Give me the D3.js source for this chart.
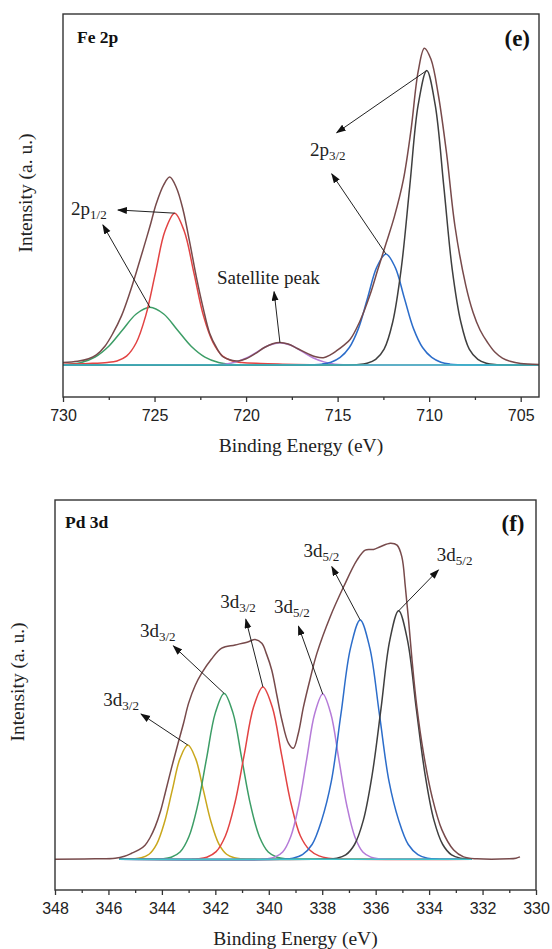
<!DOCTYPE html>
<html>
<head>
<meta charset="utf-8">
<script src="https://cdn.jsdelivr.net/npm/d3@7"></script>
<style>
  html, body { margin: 0; padding: 0; background: #fff; }
  svg { display: block; }
</style>
</head>
<body>
<svg id="fig" width="552" height="949"></svg>
<script>
// ---------- Fe 2p spectrum: [binding energy (eV), intensity (a.u.)] ----------
const feEnvelope = [[730,0.8],[729.2,1.2],[728.6,2.0],[728.18,3.2],[727.7,6.0],[727.27,10.0],[726.8,15.5],[726.36,22.5],[726.0,29.0],[725.63,36.1],[725.25,43.5],[724.9,50.7],[724.5,56.5],[724.17,58.9],[723.8,55.5],[723.44,48.6],[723.08,38.5],[722.72,27.7],[722.35,18.0],[721.99,10.0],[721.6,5.3],[721.26,2.6],[720.85,1.6],[720.42,1.3],[720.0,2.0],[719.5,3.6],[719.0,5.5],[718.55,6.7],[718.15,7.1],[717.7,6.6],[717.2,5.2],[716.6,3.5],[716.2,2.6],[715.78,2.3],[715.4,3.2],[715.05,4.5],[714.7,6.0],[714.32,8.0],[713.8,13.5],[713.23,22.0],[712.8,30.0],[712.36,38.0],[711.9,46.5],[711.41,58.0],[710.99,73.7],[710.6,92.0],[710.26,99.3],[709.9,95.8],[709.5,84.7],[709.05,66.4],[708.59,43.5],[708.0,25.0],[707.6,16.5],[707.22,11.0],[706.8,7.0],[706.4,4.0],[706.0,2.2],[705.58,1.2],[705.0,0.5],[704.0,0.2]];
const fe2p12Low = [[730,0.1],[729.75,0.2],[729.0,0.8],[728.25,2.5],[727.5,5.9],[726.75,11.0],[726.0,16.0],[725.25,18.1],[724.5,16.0],[723.75,11.0],[723.0,5.9],[722.25,2.5],[721.5,0.8],[720.75,0.2],[720.0,0.05],[719.0,0],[704,0]];
const fe2p12High = [[730,0.3],[728.6,0.5],[727.58,0.8],[727.05,1.3],[726.53,2.8],[726.0,7.0],[725.48,15.5],[724.95,28.9],[724.43,42.0],[723.9,47.6],[723.38,42.0],[722.85,28.9],[722.33,15.5],[721.8,7.0],[721.28,2.8],[720.75,1.3],[720.23,0.8],[719.2,0.5],[718.0,0.3],[716.5,0.1],[715.5,0],[704,0]];
const feSatellite = [[730,0],[722.4,0],[721.75,0.1],[721.15,0.3],[720.55,1.0],[719.95,2.3],[719.35,4.3],[718.75,6.2],[718.15,7.0],[717.55,6.2],[716.95,4.3],[716.35,2.3],[715.75,1.0],[715.15,0.3],[714.55,0.1],[713.9,0],[704,0]];
const fe2p32High = [[730,0],[717.2,0],[716.36,0.1],[715.86,0.3],[715.36,0.9],[714.86,2.4],[714.36,5.5],[713.86,11.5],[713.36,21.1],[712.86,30.7],[712.36,34.8],[711.86,30.7],[711.36,21.1],[710.86,11.5],[710.36,5.5],[709.86,2.4],[709.36,0.9],[708.86,0.3],[708.36,0.1],[707.5,0],[704,0]];
const fe2p32Low = [[730,0],[714.7,0],[713.85,0.15],[713.39,0.6],[712.92,1.8],[712.46,5.0],[711.99,13.5],[711.53,30.0],[711.06,56.0],[710.6,81.5],[710.13,92.3],[709.67,81.5],[709.2,56.0],[708.74,30.0],[708.27,13.5],[707.81,5.0],[707.34,1.8],[706.88,0.6],[706.41,0.15],[705.6,0],[704,0]];
const feBackground = [[730,0],[704,0]];

const feTicks = [730, 725, 720, 715, 710, 705];
const feMinorTicks = [727.5, 722.5, 717.5, 712.5, 707.5];

// ---------- Pd 3d spectrum ----------
const pdEnvelope = [[348,0],[346.5,0.1],[345.75,0.3],[345.4,0.9],[345.13,1.8],[344.85,2.9],[344.63,4.3],[344.45,6.5],[344.25,10.0],[344.05,14.8],[343.88,20.2],[343.63,28.4],[343.4,35.5],[343.19,41.8],[343.0,48.0],[342.75,53.5],[342.51,57.2],[342.15,61.5],[341.76,64.9],[341.26,65.9],[340.76,66.9],[340.51,67.6],[340.26,66.4],[340.08,63.0],[339.89,58.2],[339.7,50.5],[339.51,42.8],[339.26,35.6],[339.08,34.1],[338.9,38.5],[338.7,46.9],[338.45,55.5],[338.2,63.3],[337.7,74.6],[337.2,83.8],[336.7,92.0],[336.39,95.1],[336.08,95.3],[335.83,96.1],[335.45,97.2],[335.2,96.6],[335.02,93.0],[334.89,83.8],[334.77,73.6],[334.64,61.3],[334.46,46.9],[334.21,32.6],[333.89,19.2],[333.52,9.0],[333.08,2.8],[332.71,0.7],[332.21,0.1],[331.0,0.1],[330.75,0.3],[330.6,0.7]];
const pd3d32A = [[345.6,0],[345.06,0.1],[344.77,0.4],[344.48,1.5],[344.19,4.7],[343.9,11.4],[343.61,21.3],[343.32,31.0],[343.03,35.1],[342.74,31.0],[342.45,21.3],[342.16,11.4],[341.87,4.7],[341.58,1.5],[341.29,0.4],[341.0,0.1],[340.4,0],[332.4,0]];
const pd3d32B = [[345.6,0],[344.3,0],[343.98,0.1],[343.65,0.6],[343.32,2.2],[342.99,6.9],[342.66,16.6],[342.33,30.9],[342.0,45.0],[341.67,51.0],[341.34,45.0],[341.01,30.9],[340.68,16.6],[340.35,6.9],[340.02,2.2],[339.69,0.6],[339.36,0.1],[339.0,0],[332.4,0]];
const pd3d32C = [[345.6,0],[342.9,0],[342.67,0.1],[342.32,0.6],[341.97,2.3],[341.62,7.2],[341.27,17.2],[340.92,32.1],[340.57,46.8],[340.22,53.0],[339.87,46.8],[339.52,32.1],[339.17,17.2],[338.82,7.2],[338.47,2.8],[338.12,1.0],[337.77,0.3],[337.2,0],[332.4,0]];
const pd3d52A = [[345.6,0],[340.3,0],[340.08,0.1],[339.78,0.6],[339.48,2.2],[339.18,6.9],[338.88,16.5],[338.58,30.8],[338.28,44.8],[337.98,50.8],[337.68,44.8],[337.38,30.8],[337.08,16.5],[336.78,6.9],[336.48,2.2],[336.18,0.6],[335.88,0.1],[335.5,0],[332.4,0]];
const pd3d52B = [[345.6,0],[339.4,0],[339.1,0.3],[338.74,1.4],[338.38,4.5],[338.02,12.0],[337.66,23.9],[337.3,44.6],[336.94,65.0],[336.58,73.6],[336.22,65.0],[335.86,44.6],[335.5,23.9],[335.14,12.0],[334.78,4.5],[334.42,1.4],[334.06,0.3],[333.6,0],[332.4,0]];
const pd3d52C = [[345.6,0],[338.0,0],[337.45,0.3],[337.12,1.3],[336.79,4.5],[336.46,12.0],[336.13,26.0],[335.8,46.3],[335.47,67.4],[335.14,76.4],[334.81,67.4],[334.48,46.3],[334.15,26.0],[333.82,12.0],[333.49,4.5],[333.16,1.3],[332.83,0.3],[332.4,0]];
const pdBackground = [[345.6,0],[332.4,0]];

const pdTicks = [348, 346, 344, 342, 340, 338, 336, 334, 332, 330];
const pdMinorTicks = [347, 345, 343, 341, 339, 337, 335, 333, 331];

// ---------- styling & layout ----------
const SERIF = "'Liberation Serif', 'Times New Roman', serif";
const SANS = "'Liberation Sans', Arial, sans-serif";
const C = {
  envelope: '#774a4b', gray: '#3f3f3f', red: '#e24343', green: '#3c9d66',
  blue: '#2c6dca', purple: '#b57bd8', yellow: '#c9a71c', cyan: '#41c3cb'
};

const panels = [
  {
    box: { left: 63, right: 539, top: 14, bottom: 397 },
    xDomain: [730, 704], yDomain: [-10, 110],
    ticks: feTicks, minor: feMinorTicks,
    series: [
      { data: fe2p12Low, color: C.green },
      { data: fe2p12High, color: C.red },
      { data: feSatellite, color: C.purple },
      { data: fe2p32High, color: C.blue },
      { data: fe2p32Low, color: C.gray },
      { data: feBackground, color: C.cyan },
      { data: feEnvelope, color: C.envelope }
    ],
    arrows: [
      { peakOf: fe2p32Low, tip: [715.05, 72.8] },
      { peakOf: fe2p32High, tip: [715.32, 59.9] },
      { peakOf: fe2p12High, tip: [727.0, 48.6] },
      { peakOf: fe2p12Low, tip: [727.82, 43.9] },
      { peakOf: feSatellite, tip: [718.47, 23.0] }
    ],
    notes: [
      { text: '2p', sub: '3/2', at: [716.51, 65.5] },
      { text: '2p', sub: '1/2', at: [729.56, 47.0] },
      { text: 'Satellite peak', at: [721.59, 25.4] }
    ],
    name: { text: 'Fe 2p', x: 77, y: 43 },
    tag: { text: '(e)', x: 530, y: 46 },
    yTitle: { x: 32, y: 193 },
    xTitle: { x: 301, y: 452 }
  },
  {
    box: { left: 55, right: 536, top: 500, bottom: 890 },
    xDomain: [348, 330], yDomain: [-9.5, 110.5],
    ticks: pdTicks, minor: pdMinorTicks,
    series: [
      { data: pd3d32A, color: C.yellow },
      { data: pd3d32B, color: C.green },
      { data: pd3d32C, color: C.red },
      { data: pd3d52A, color: C.purple },
      { data: pd3d52B, color: C.blue },
      { data: pd3d52C, color: C.gray },
      { data: pdBackground, color: C.cyan },
      { data: pdEnvelope, color: C.envelope }
    ],
    arrows: [
      { peakOf: pd3d32A, tip: [344.78, 44.65] },
      { peakOf: pd3d32B, tip: [343.57, 65.6] },
      { peakOf: pd3d32C, tip: [340.86, 73.8] },
      { peakOf: pd3d52A, tip: [338.89, 71.7] },
      { peakOf: pd3d52B, tip: [337.64, 90.0] },
      { peakOf: pd3d52C, tip: [333.65, 89.0] }
    ],
    notes: [
      { text: '3d', sub: '3/2', at: [346.19, 47.1] },
      { text: '3d', sub: '3/2', at: [344.82, 68.4] },
      { text: '3d', sub: '3/2', at: [341.82, 77.2] },
      { text: '3d', sub: '5/2', at: [339.8, 75.7] },
      { text: '3d', sub: '5/2', at: [338.7, 93.1] },
      { text: '3d', sub: '5/2', at: [333.71, 91.8] }
    ],
    name: { text: 'Pd 3d', x: 65, y: 528 },
    tag: { text: '(f)', x: 524.5, y: 531 },
    yTitle: { x: 23.5, y: 682 },
    xTitle: { x: 295.5, y: 945 }
  }
];

const svg = d3.select('#fig');
svg.append('rect').attr('width', 552).attr('height', 949).attr('fill', '#fff');

// arrowhead used by every annotation line
svg.append('defs').append('marker')
  .attr('id', 'head')
  .attr('markerUnits', 'userSpaceOnUse')
  .attr('markerWidth', 10).attr('markerHeight', 8)
  .attr('refX', 9).attr('refY', 3.5)
  .attr('orient', 'auto')
  .append('path')
  .attr('d', 'M0,0 L10,3.5 L0,7 Z')
  .attr('fill', '#111');

panels.forEach(p => {
  const b = p.box;
  const x = d3.scaleLinear().domain(p.xDomain).range([b.left, b.right]);
  const y = d3.scaleLinear().domain(p.yDomain).range([b.bottom, b.top]);
  const g = svg.append('g');

  const line = d3.line()
    .x(d => x(d[0]))
    .y(d => y(d[1]))
    .curve(d3.curveCatmullRom.alpha(0.5));

  // spectra
  g.append('g').selectAll('path')
    .data(p.series)
    .join('path')
    .attr('d', s => line(s.data))
    .attr('fill', 'none')
    .attr('stroke', s => s.color)
    .attr('stroke-width', 1.5)
    .attr('stroke-linejoin', 'round');

  // frame
  g.append('rect')
    .attr('x', b.left).attr('y', b.top)
    .attr('width', b.right - b.left).attr('height', b.bottom - b.top)
    .attr('fill', 'none').attr('stroke', '#333').attr('stroke-width', 1.4);

  // major and minor ticks on the energy axis
  const major = g.append('g')
    .attr('transform', `translate(0,${b.bottom})`)
    .call(d3.axisBottom(x).tickValues(p.ticks).tickFormat(d3.format('d'))
      .tickSize(5).tickPadding(8).tickSizeOuter(0));
  major.select('.domain').remove();
  major.selectAll('line').attr('stroke', '#333').attr('stroke-width', 1.3);
  major.selectAll('text')
    .attr('font-family', SANS).attr('font-size', 16).attr('fill', '#222');

  const minor = g.append('g')
    .attr('transform', `translate(0,${b.bottom})`)
    .call(d3.axisBottom(x).tickValues(p.minor).tickFormat('').tickSize(3).tickSizeOuter(0));
  minor.select('.domain').remove();
  minor.selectAll('line').attr('stroke', '#333').attr('stroke-width', 1.3);

  // axis titles
  g.append('text')
    .attr('x', p.xTitle.x).attr('y', p.xTitle.y)
    .attr('text-anchor', 'middle')
    .attr('font-family', SERIF).attr('font-size', 19.5).attr('fill', '#222')
    .text('Binding Energy (eV)');
  g.append('text')
    .attr('transform', `translate(${p.yTitle.x},${p.yTitle.y}) rotate(-90)`)
    .attr('text-anchor', 'middle')
    .attr('font-family', SERIF).attr('font-size', 19.5).attr('fill', '#222')
    .text('Intensity (a. u.)');

  // element name and panel tag
  g.append('text')
    .attr('x', p.name.x).attr('y', p.name.y)
    .attr('font-family', SERIF).attr('font-weight', 'bold').attr('font-size', 17.5).attr('fill', '#111')
    .text(p.name.text);
  g.append('text')
    .attr('x', p.tag.x).attr('y', p.tag.y)
    .attr('text-anchor', 'end')
    .attr('font-family', SERIF).attr('font-weight', 'bold').attr('font-size', 23).attr('fill', '#111')
    .text(p.tag.text);

  // arrows from each fitted peak maximum to its label
  p.arrows.forEach(a => {
    const top = a.peakOf.reduce((m, d) => (d[1] > m[1] ? d : m));
    g.append('line')
      .attr('x1', x(top[0])).attr('y1', y(top[1]))
      .attr('x2', x(a.tip[0])).attr('y2', y(a.tip[1]))
      .attr('stroke', '#222').attr('stroke-width', 1)
      .attr('marker-end', 'url(#head)');
  });

  // peak labels with subscripts
  p.notes.forEach(n => {
    const t = g.append('text')
      .attr('x', x(n.at[0])).attr('y', y(n.at[1]))
      .attr('font-family', SERIF).attr('font-size', 19).attr('fill', '#222');
    t.append('tspan').text(n.text);
    if (n.sub) t.append('tspan').attr('font-size', 13).attr('dy', 4).text(n.sub);
  });
});
</script>
</body>
</html>
